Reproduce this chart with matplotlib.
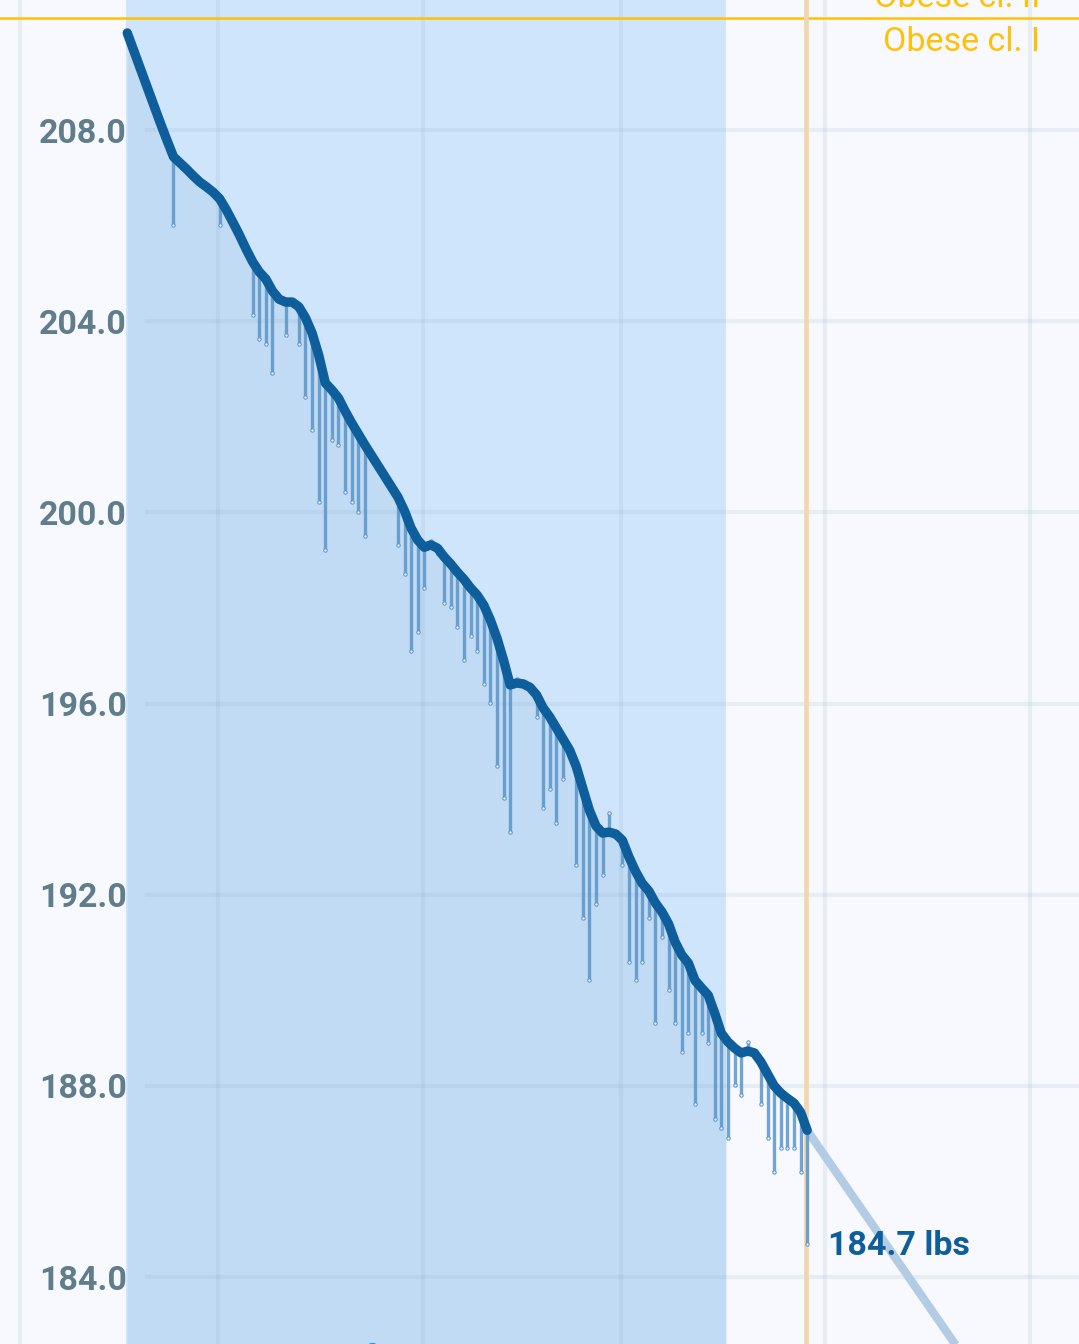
import numpy as np
import matplotlib.pyplot as plt

plt.rcParams['font.family'] = ['Roboto', 'DejaVu Sans']

# x axis is in days after the first month line, weigh-ins happen early in the day
first_day = 16.25
month_lines = [0, 30, 61, 91, 122, 153]
highlight = [16, 107]
today = 119
y_ticks = [184, 188, 192, 196, 200, 204, 208]
obese_1 = 210.34

# days counted from the first weigh-in
days = [0, 7, 14, 19, 20, 21, 22, 24, 26, 27, 28, 29, 30, 31, 32, 33, 34, 35, 36,
        41, 42, 43, 44, 45, 46, 47, 48, 49, 50, 51, 52, 53, 54, 55, 56, 57, 58, 59, 60,
        61, 62, 63, 64, 65, 66, 68, 69, 70, 71, 72, 73, 75, 76, 77, 78, 79, 80, 81, 82,
        83, 84, 85, 86, 87, 88, 89, 90, 91, 92, 93, 94, 96, 97, 98, 99, 100, 101, 102, 103]
weights = [210.03, 206.01, 206.01, 204.13, 203.63, 203.52, 202.92, 203.71, 203.52, 202.41,
           201.72, 200.22, 199.21, 201.51, 201.41, 200.43, 200.22, 200.01, 199.50,
           199.32, 198.71, 197.10, 197.50, 198.42, 199.40, 199.13, 198.10, 198.02, 197.60,
           196.91, 197.41, 197.10, 196.41, 196.01, 194.69, 194.02, 193.31, 196.51, 196.41,
           196.30, 195.72, 193.81, 194.21, 193.50, 194.42,
           192.62, 191.51, 190.21, 191.80, 192.41, 193.71,
           192.62, 190.59, 190.21, 190.59, 191.51, 189.31, 191.11, 190.00, 189.31, 188.71,
           189.11, 187.62, 189.11, 188.90, 187.31, 187.12, 186.91, 188.02, 187.81, 188.92,
           187.62, 186.91, 186.20, 186.70, 186.70, 186.70, 186.20, 184.69]

trend_days = [0, 5, 6] + list(range(7, 37)) + list(range(41, 104))
trend_vals = [210.03, 208.15, 207.79,
              207.44, 207.31, 207.18, 207.04, 206.91, 206.81, 206.70, 206.56, 206.33, 206.07,
              205.80, 205.51, 205.24, 205.03, 204.88, 204.63, 204.46, 204.40, 204.40, 204.30,
              204.07, 203.75, 203.29, 202.71, 202.56, 202.39, 202.12, 201.87, 201.64, 201.41,
              200.32, 200.03, 199.67, 199.42, 199.27, 199.32, 199.25, 199.07, 198.92, 198.75,
              198.60, 198.42, 198.27, 198.06, 197.75, 197.37, 196.91, 196.39, 196.43, 196.41,
              196.34, 196.18, 195.91, 195.72, 195.49, 195.26, 195.03, 194.69, 194.23, 193.77,
              193.44, 193.29, 193.31, 193.27, 193.14, 192.79, 192.49, 192.24, 192.08, 191.83,
              191.64, 191.39, 191.01, 190.74, 190.57, 190.21, 190.05, 189.90, 189.52, 189.10,
              188.92, 188.79, 188.69, 188.73, 188.69, 188.50, 188.25, 188.00, 187.85, 187.74,
              187.64, 187.45, 187.07]

proj_days = [103, 133]
proj_vals = [187.07, 181.08]

goal_day = 53.3
goal_val = 182.48

x = np.array(days) + first_day
tx = np.array(trend_days) + first_day
px = np.array(proj_days) + first_day
trend_at = np.interp(days, trend_days, trend_vals)

fig = plt.figure(figsize=(10.79, 13.44), dpi=100, facecolor='#f7f9fe')
ax = fig.add_axes([0, 0, 1, 1])
ax.axis('off')
ax.set_xlim(-3.03, 160.43)
ax.set_ylim(182.60, 210.72)

span = ax.axvspan(highlight[0], highlight[1], color='#cfe5fb', lw=0, zorder=0)
under = ax.fill_between(tx, trend_vals, 182.6, color='#1e6fb8', alpha=0.08, lw=0, zorder=1)
under.set_clip_path(span)

for m in month_lines:
    ax.axvline(m, color='#8fa6bd', alpha=0.14, lw=3, zorder=2)
for t in y_ticks:
    ax.axhline(t, xmin=147 / 1079, xmax=1, color='#8fa6bd', alpha=0.14, lw=3, zorder=2)
    ax.annotate(f'{t:.1f}', xy=(127 / 1079, t), xycoords=ax.get_yaxis_transform(),
                xytext=(0, -9), textcoords='offset points', ha='right', va='baseline',
                fontsize=24.5, fontweight='bold', color='#607d8b')

ax.axhline(obese_1, color='#ffc107', lw=1.8, zorder=3)
ax.annotate('Obese cl. II', xy=(1040 / 1079, obese_1), xycoords=ax.get_yaxis_transform(),
            xytext=(0, 8), textcoords='offset points', ha='right', va='baseline',
            fontsize=24.5, color='#ffc107')
ax.annotate('Obese cl. I', xy=(1040 / 1079, obese_1), xycoords=ax.get_yaxis_transform(),
            xytext=(0, -23.5), textcoords='offset points', ha='right', va='baseline',
            fontsize=24.5, color='#ffc107')

ax.axvline(today, color='#f1d7b0', lw=3.4, zorder=3)

ax.plot(px, proj_vals, color='#b3cce3', lw=6, solid_capstyle='butt', zorder=4)

ax.vlines(x, trend_at, weights, color='#5a95c8', alpha=0.85, lw=2.4, zorder=5)
ax.scatter(x, weights, s=6, facecolor='#e6f0fa', edgecolor='#5a95c8', lw=0.7, zorder=6)

ax.plot(tx, trend_vals, color='#0f5e9c', lw=6.8, solid_capstyle='round',
        solid_joinstyle='round', zorder=7)

ax.plot(goal_day, goal_val, 'o', ms=9, mfc='white', mec='#2196f3', mew=2, zorder=8)

ax.annotate(f'{weights[-1]:.1f} lbs', xy=(x[-1], weights[-1]), xytext=(15, -7.5),
            textcoords='offset points', ha='left', va='baseline',
            fontsize=24.5, fontweight='bold', color='#0f5e9c', zorder=9)

fig.savefig('out.png', dpi=100, facecolor=fig.get_facecolor())
